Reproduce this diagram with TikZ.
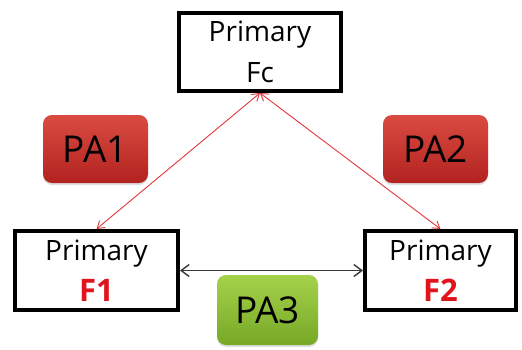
\documentclass[tikz,border=0pt]{standalone}
\usepackage{fontspec}
\setmainfont{Open Sans}
\usetikzlibrary{arrows.meta,shadows}
\definecolor{boxred}{RGB}{225,20,30}
\definecolor{palinered}{RGB}{225,55,60}
\definecolor{pargtop}{RGB}{218,75,65}
\definecolor{pargbot}{RGB}{178,35,32}
\definecolor{pagrtop}{RGB}{165,210,75}
\definecolor{pagrbot}{RGB}{118,168,38}
\definecolor{darkline}{RGB}{55,55,55}
\tikzset{
  primbox/.style={draw=black, line width=4pt, fill=white, inner sep=0pt, align=center,
    font=\fontsize{28}{41}\selectfont},
  pabox/.style={rounded corners=9pt, inner sep=0pt, text=black,
    font=\fontsize{37}{40}\selectfont,
    drop shadow={opacity=0.25, shadow xshift=0pt, shadow yshift=-2pt}},
  pared/.style={pabox, top color=pargtop, bottom color=pargbot},
  pagreen/.style={pabox, top color=pagrtop, bottom color=pagrbot},
  redlink/.style={draw=palinered, line width=0.9pt, {Straight Barb[length=7pt,width=9pt]}-{Straight Barb[length=7pt,width=9pt]}},
  blacklink/.style={draw=darkline, line width=1.4pt, {Straight Barb[length=8pt,width=12pt]}-{Straight Barb[length=8pt,width=12pt]}}
}
\newcommand{\fname}[1]{\textcolor{boxred}{\fontsize{31}{41}\selectfont\bfseries #1}}
\begin{document}
\begin{tikzpicture}[x=1pt,y=-1pt]
\useasboundingbox[fill=white] (0,0) rectangle (522,349);
\node[primbox, minimum width=162pt, minimum height=78pt] (fc) at (260,52) {Primary\\Fc};
\node[primbox, minimum width=163pt, minimum height=79pt] (f1) at (96.5,270.5) {Primary\\\fname{F1}};
\node[primbox, minimum width=151pt, minimum height=79pt] (f2) at (440.5,270.5) {Primary\\\fname{F2}};
\node[pared, minimum width=105pt, minimum height=68pt] (pa1) at (95.5,149) {PA1};
\node[pared, minimum width=105pt, minimum height=68pt] (pa2) at (435.5,149) {PA2};
\node[pagreen, minimum width=101pt, minimum height=70pt] (pa3) at (267.5,310) {PA3};
\draw[redlink] (f1.north) -- (fc.south);
\draw[redlink] (f2.north) -- (fc.south);
\draw[blacklink] (f1.east) -- (f2.west);
\end{tikzpicture}
\end{document}
